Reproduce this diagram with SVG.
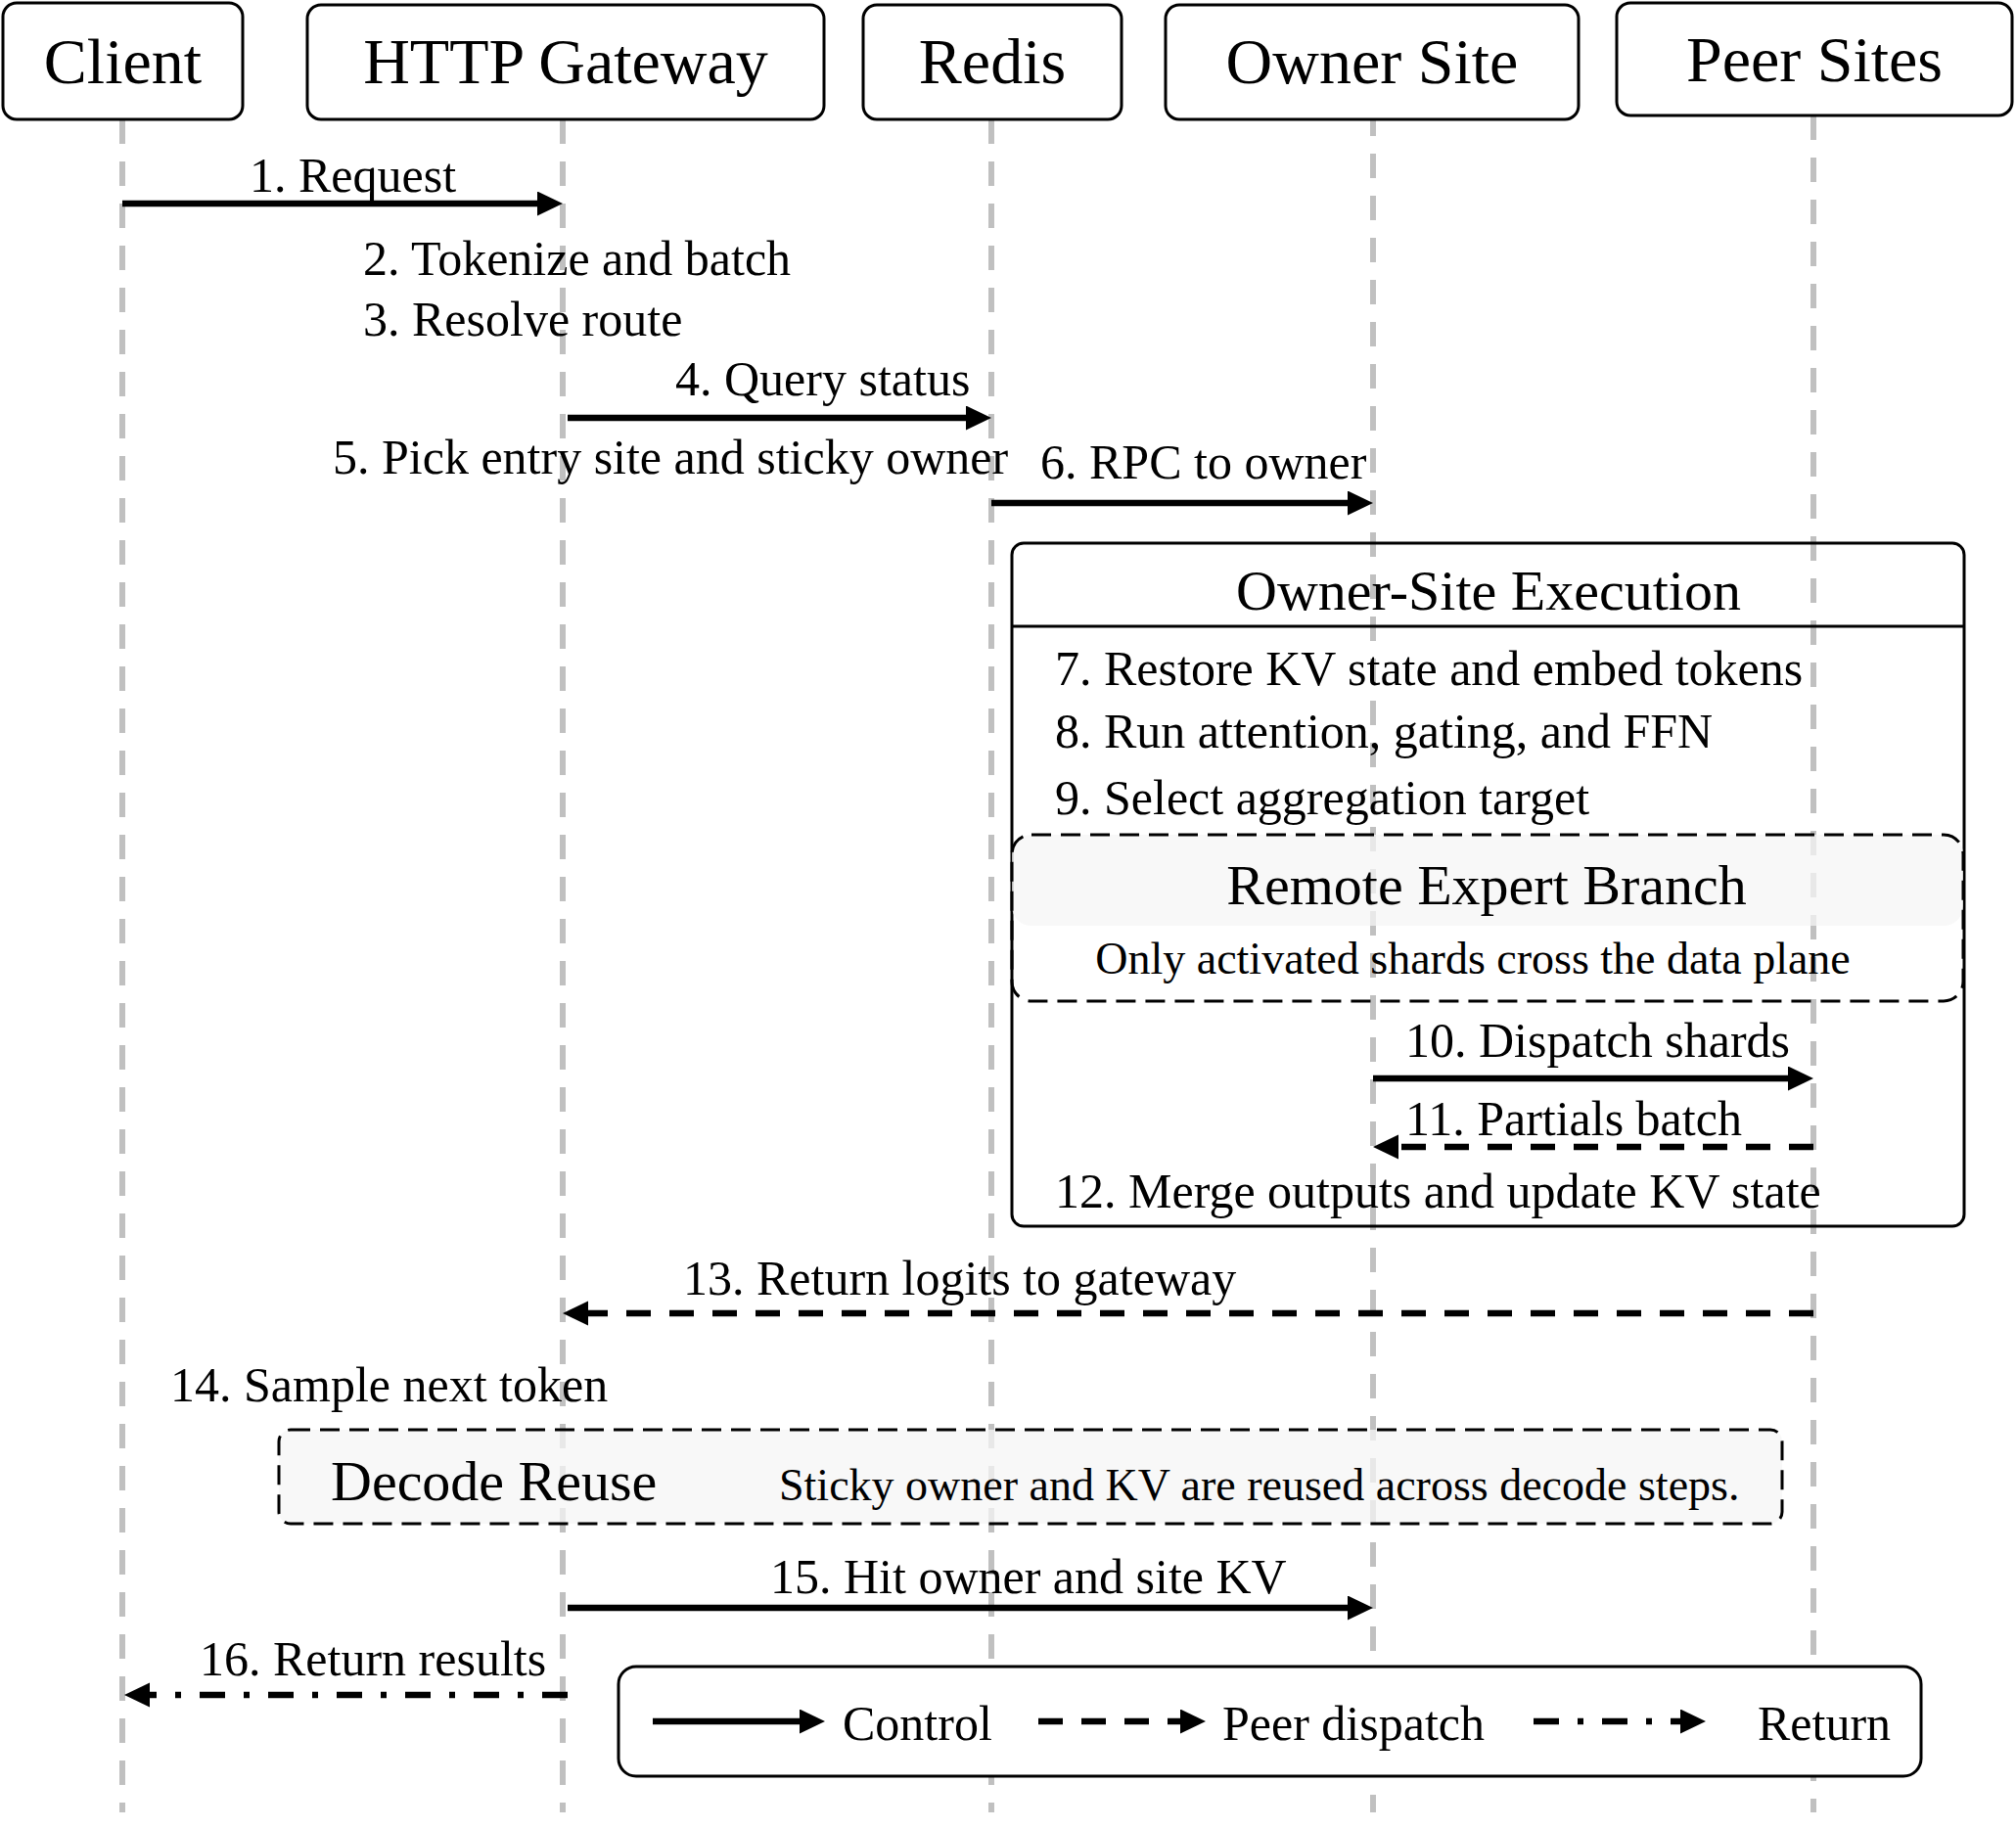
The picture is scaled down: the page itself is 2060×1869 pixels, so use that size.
<svg xmlns="http://www.w3.org/2000/svg" width="2060" height="1869" viewBox="0 0 2060 1869">
<defs>
<marker id="ah" markerUnits="userSpaceOnUse" markerWidth="28" markerHeight="26" refX="6" refY="12.5" orient="auto" viewBox="0 0 28 26">
<path d="M0,0 L26,12.5 L0,25 z" fill="#000"/>
</marker>
</defs>
<style>
text{font-family:"Liberation Serif","Times New Roman",serif;fill:#000}
.hdr{font-size:66px;text-anchor:middle}
.lbl{font-size:50px}
.ttl{font-size:58px;text-anchor:middle}
.sub{font-size:46px}
.box{fill:#fff;stroke:#000;stroke-width:3}
.life{stroke:#c0c0c0;stroke-width:6;stroke-dasharray:25 18;fill:none}
.ctl{stroke:#000;stroke-width:6.5;fill:none;marker-end:url(#ah)}
.dsh{stroke:#000;stroke-width:6.5;fill:none;stroke-dasharray:25 19;marker-end:url(#ah)}
.dot{stroke:#000;stroke-width:6.5;fill:none;stroke-dasharray:26 19 6 19;marker-end:url(#ah)}
.frame{fill:none;stroke:#000;stroke-width:3}
.dframe{fill:none;stroke:#000;stroke-width:3;stroke-dasharray:20 10}
.shade{fill:#f5f5f5;fill-opacity:0.75}
</style>
<rect width="2060" height="1869" fill="#fff"/>
<g id="lifelines">
<line class="life" x1="125" y1="122" x2="125" y2="1852"/>
<line class="life" x1="575" y1="122" x2="575" y2="1852"/>
<line class="life" x1="1013" y1="122" x2="1013" y2="1852"/>
<line class="life" x1="1403" y1="114" x2="1403" y2="1852"/>
<line class="life" x1="1853" y1="118" x2="1853" y2="1852"/>
</g>
<g id="node-client"><rect class="box" x="3" y="3" width="245" height="119" rx="14"/><text class="hdr" x="125.5" y="85">Client</text></g>
<g id="node-gateway"><rect class="box" x="314" y="5" width="528" height="117" rx="14"/><text class="hdr" x="578" y="85">HTTP Gateway</text></g>
<g id="node-redis"><rect class="box" x="882" y="5" width="264" height="117" rx="14"/><text class="hdr" x="1014" y="85">Redis</text></g>
<g id="node-owner"><rect class="box" x="1191" y="5" width="422" height="117" rx="14"/><text class="hdr" x="1402" y="85">Owner Site</text></g>
<g id="node-peer"><rect class="box" x="1652" y="3" width="404" height="115" rx="14"/><text class="hdr" x="1854" y="83">Peer Sites</text></g>
<g id="frame-owner-exec">
<rect class="frame" x="1034" y="555" width="973" height="698" rx="12"/>
<line x1="1034" y1="640" x2="2007" y2="640" stroke="#000" stroke-width="3"/>
<text class="ttl" x="1521" y="623">Owner-Site Execution</text>
</g>
<g id="frame-remote">
<rect class="shade" x="1034" y="853" width="972" height="93" rx="20"/>
<rect class="dframe" x="1034" y="853" width="972" height="170" rx="20"/>
<text class="ttl" x="1519" y="924">Remote Expert Branch</text>
<text class="sub" x="1505" y="995" text-anchor="middle">Only activated shards cross the data plane</text>
</g>
<g id="frame-decode">
<rect class="shade" x="285" y="1461" width="1536" height="96" rx="12"/>
<rect class="dframe" x="285" y="1461" width="1536" height="96" rx="12"/>
<text x="338" y="1533" style="font-size:58px">Decode Reuse</text>
<text class="sub" x="796" y="1533">Sticky owner and KV are reused across decode steps.</text>
</g>
<g id="connectors">
<line class="ctl" x1="125" y1="208" x2="555" y2="208"/>
<line class="ctl" x1="580" y1="427" x2="993" y2="427"/>
<line class="ctl" x1="1013" y1="514" x2="1383" y2="514"/>
<line class="ctl" x1="1403" y1="1102" x2="1833" y2="1102"/>
<line class="dsh" x1="1853" y1="1172" x2="1423" y2="1172"/>
<line class="dsh" x1="1853" y1="1342" x2="595" y2="1342"/>
<line class="ctl" x1="580" y1="1643" x2="1383" y2="1643"/>
<line class="dot" x1="580" y1="1732" x2="147" y2="1732"/>
</g>
<g id="labels">
<text class="lbl" x="255" y="196">1. Request</text>
<text class="lbl" x="371" y="281">2. Tokenize and batch</text>
<text class="lbl" x="371" y="343">3. Resolve route</text>
<text class="lbl" x="690" y="404">4. Query status</text>
<text class="lbl" x="340" y="484">5. Pick entry site and sticky owner</text>
<text class="lbl" x="1063" y="489">6. RPC to owner</text>
<text class="lbl" x="1078" y="700">7. Restore KV state and embed tokens</text>
<text class="lbl" x="1078" y="764">8. Run attention, gating, and FFN</text>
<text class="lbl" x="1078" y="832">9. Select aggregation target</text>
<text class="lbl" x="1436" y="1080">10. Dispatch shards</text>
<text class="lbl" x="1436" y="1160">11. Partials batch</text>
<text class="lbl" x="1078" y="1234">12. Merge outputs and update KV state</text>
<text class="lbl" x="698" y="1323">13. Return logits to gateway</text>
<text class="lbl" x="174" y="1432">14. Sample next token</text>
<text class="lbl" x="787" y="1628">15. Hit owner and site KV</text>
<text class="lbl" x="204" y="1712">16. Return results</text>
</g>
<g id="legend">
<rect class="box" x="632" y="1703" width="1331" height="112" rx="18"/>
<line class="ctl" x1="667" y1="1759" x2="823" y2="1759"/>
<text class="lbl" x="861" y="1778">Control</text>
<line class="dsh" x1="1061" y1="1759" x2="1212" y2="1759"/>
<text class="lbl" x="1249" y="1778">Peer dispatch</text>
<line class="dot" x1="1567" y1="1759" x2="1723" y2="1759"/>
<text class="lbl" x="1796" y="1778">Return</text>
</g>
</svg>
